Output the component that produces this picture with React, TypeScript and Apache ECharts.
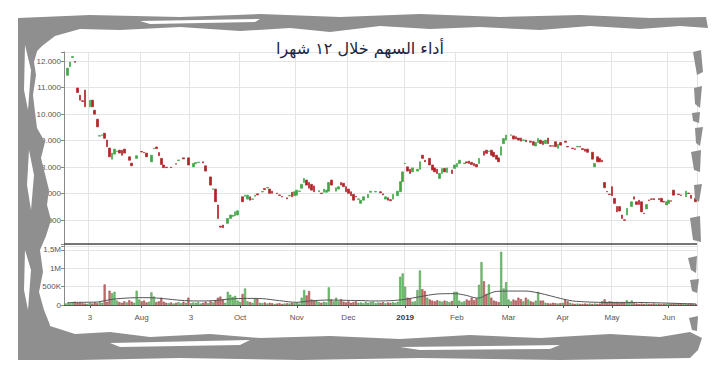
import React, { useEffect, useRef } from 'react';
import * as echarts from 'echarts';

const titleText = 'أداء السهم خلال ١٢ شهرا';

// one slot per trading day (null = no candle read)
const openVals: (number | null)[] = [
  null, 11470, 11790, 12140, 11990, 10990, 10720, 10510, 10910, null,
  10280, 10530, 10150, 9810, 9170, 9200, 9280, 9020, 8720, 8300,
  8490, 8590, 8640, 8640, 8680, null, 8390, 8150, null, 8330,
  null, 8590, 8560, 8530, null, 8200, 8690, 8760, 8550, 8330,
  8080, 8000, null, 8000, null, 8130, 8250, null, 8350, null,
  8350, null, 8010, 8130, 8170, null, 8200, 8050, null, 7630,
  7160, 7170, 6570, 5770, 5810, null, 5875, 6060, 6140, 6160,
  6190, null, 6880, 6900, 6790, 6880, 6780, 6900, 6990, null,
  7060, 7190, 7210, 7170, 7090, null, 7020, 6950, 6890, null,
  6840, 6910, 7050, 6920, 6940, 7080, 7200, 7420, 7510, 7420,
  7350, 7290, null, 7070, 7020, 7050, 7050, 7090, 7510, null,
  7090, 7170, 7420, 7390, 7260, 7170, 7070, 6970, 6890, 6780,
  6630, 6750, null, 6840, 7050, null, 7060, null, 7070, 6990,
  6790, 6840, 6770, 6790, null, 6920, 7070, 7450, 8130, 8010,
  7920, 7820, null, 7850, 7920, 8450, 8260, null, 8330, 8080,
  7970, 7920, 7570, 7760, 7950, 7800, null, 7890, 7950, 8010,
  8140, null, 8130, 8200, 8230, 8180, 8140, 8100, 8140, null,
  8600, 8640, 8590, 8640, 8560, 8450, 8350, 8450, 8890, 9020,
  null, 9200, 9180, 9150, 9100, 9100, 9010, 9020, null, 8980,
  8960, 8800, 8930, 9020, 8980, 8890, 9100, 8810, 8810, 8960,
  8710, 8930, null, 8980, 8780, null, 8720, 8690, 8760, 8780,
  8700, 8680, 8680, null, 8560, 8010, 8390, 8330, 8260, 7420,
  7080, 6980, 7260, 6820, 6510, 6510, 6190, 6010, 6190, null,
  6510, 6880, 6690, 6750, 6690, 6260, 6420, 6760, 6800, 6810,
  null, 6810, 6820, 6700, 6570, 6630, 6730, 7130, null, 6980,
  6950, null, 6880, 7020, 6940, null, 6820,
];

const closeVals: (number | null)[] = [
  null, 11740, 11970, 12180, 11960, 10820, 10530, 10480, 10280, null,
  10530, 10280, 10000, 9520, 9190, 9220, 9090, 8770, 8390, 8530,
  8680, 8610, 8530, 8450, 8530, null, 8260, 8050, null, 8430,
  null, 8570, 8540, 8390, null, 8450, 8710, 8700, 8430, 8100,
  7980, 7980, null, 7980, null, 8110, 8270, null, 8310, null,
  8080, null, 8140, 8170, 8190, null, 8160, 7850, null, 7320,
  7180, 6690, 6060, 5730, 5710, null, 6060, 6190, 6180, 6310,
  6350, null, 6690, 6940, 6940, 6750, 6800, 6940, 6950, null,
  7080, 7150, 7230, 7010, 7010, null, 7000, 6930, 6870, null,
  6800, 6930, 6880, 7070, 7130, 7100, 7350, 7570, 7320, 7200,
  7130, 7070, null, 7110, 7000, 7170, 7130, 7420, 7320, null,
  7220, 7260, 7320, 7260, 7070, 7010, 6920, 6750, 6870, 6800,
  6750, 6880, null, 6970, 7090, null, 7080, null, 7030, 6950,
  6880, 6750, 6730, 6970, null, 7090, 7450, 7820, 8150, 7850,
  7760, 7970, null, 7920, 8200, 8330, 8200, null, 8080, 7890,
  7820, 7760, 7760, 7950, 7820, 7970, null, 7760, 8080, 8140,
  8260, null, 8150, 8160, 8140, 8100, 8050, 8010, 8330, null,
  8450, 8520, 8610, 8450, 8390, 8300, 8200, 8770, 9080, 9210,
  null, 9220, 9060, 9060, 9020, 8980, 9030, 8960, null, 8940,
  8830, 8930, 9080, 8890, 8850, 9020, 8890, 8790, 8790, 8770,
  8860, 8830, null, 8940, 8760, null, 8700, 8670, 8780, 8760,
  8660, 8600, 8560, null, 8300, 8140, 8200, 8200, 8200, 7220,
  7060, 6960, 6920, 6630, 6310, 6340, 6060, 5990, 6440, null,
  6690, 6790, 6590, 6590, 6310, 6240, 6590, 6740, 6780, 6770,
  null, 6770, 6690, 6680, 6690, 6750, 6710, 6940, null, 6960,
  6930, null, 7090, 7000, 6820, null, 6690,
];

// volume in thousands
const volumeK: number[] = [
  40, 60, 50, 80, 90, 60, 70, 50, 40, 30,
  60, 40, 70, 50, 80, 60, 560, 90, 390, 320,
  360, 120, 80, 60, 100, 70, 130, 90, 60, 390,
  150, 100, 120, 70, 90, 345, 230, 80, 100, 200,
  90, 60, 50, 70, 40, 60, 80, 50, 90, 60,
  200, 50, 70, 60, 80, 40, 60, 90, 50, 100,
  70, 120, 200, 230, 150, 60, 360, 280, 220, 250,
  120, 80, 300, 450, 100, 80, 60, 180, 180, 60,
  50, 70, 40, 60, 50, 30, 40, 50, 30, 40,
  50, 40, 60, 50, 70, 40, 200, 410, 260, 380,
  150, 120, 110, 80, 60, 90, 70, 480, 150, 100,
  200, 100, 160, 90, 70, 100, 60, 80, 100, 60,
  70, 50, 90, 60, 80, 90, 50, 70, 60, 80,
  50, 70, 60, 80, 60, 90, 770, 860, 500, 200,
  180, 90, 100, 410, 940, 430, 380, 200, 150, 120,
  100, 130, 110, 90, 120, 100, 80, 110, 360, 360,
  120, 80, 100, 150, 120, 200, 130, 180, 550, 1170,
  650, 300, 560, 200, 120, 100, 80, 1450, 450, 620,
  150, 100, 150, 120, 200, 160, 100, 200, 150, 100,
  80, 120, 360, 120, 120, 60, 50, 40, 60, 50,
  40, 50, 60, 150, 100, 60, 40, 30, 40, 30,
  30, 40, 30, 40, 30, 40, 30, 40, 100, 155,
  80, 100, 90, 70, 80, 60, 70, 60, 130, 60,
  120, 50, 40, 30, 40, 30, 40, 30, 30, 40,
  30, 30, 20, 30, 30, 40, 30, 40, 30, 30,
  20, 30, 40, 30, 40, 30, 30,
];

// volume moving average (thousands), read at a few slots
const maSlots = [1, 6, 13, 16, 19, 23, 29, 34, 40, 47, 53, 60, 67, 74, 80, 87, 94, 99, 107, 114, 122, 124, 132, 138, 144, 151, 158, 163, 166, 168, 171, 175, 180, 187, 192, 197, 201, 206, 213, 220, 230, 240, 250, 256];
const maValuesK = [64, 73, 82, 118, 155, 180, 200, 200, 173, 127, 110, 118, 164, 180, 173, 118, 73, 110, 136, 127, 118, 110, 118, 155, 227, 300, 310, 260, 200, 190, 280, 370, 380, 380, 330, 250, 180, 110, 80, 70, 70, 60, 40, 30];

const tickSlots = [10, 31, 51, 71, 94, 115, 138, 159, 180, 202, 222, 245];
const tickLabels = ['3', 'Aug', '3', 'Oct', 'Nov', 'Dec', '2019', 'Feb', 'Mar', 'Apr', 'May', 'Jun'];

const priceLabels: Record<number, string> = { 6000: '6.000', 7000: '7.000', 8000: '8.000', 9000: '9.000', 10000: '10.000', 11000: '11.000', 12000: '12.000' };
const volLabels: Record<number, string> = { 0: '0', 500: '500K', 1000: '1M', 1500: '1,5M' };

// decorative torn-paper frame
const FRAME = '#8f8f8f';
const framePolys: number[][][] = [
  // top
  [[18, 18], [90, 15], [180, 17], [260, 14], [340, 17], [420, 14], [500, 17], [580, 15], [650, 18], [706, 17], [708, 28], [680, 26], [640, 29], [590, 26], [540, 30], [480, 27], [430, 29], [380, 26], [330, 32], [290, 28], [240, 31], [180, 27], [120, 30], [80, 29], [55, 36], [42, 46], [30, 58], [18, 60]],
  // left
  [[18, 18], [50, 19], [45, 32], [38, 48], [34, 62], [36, 75], [33, 95], [35, 112], [37, 128], [45, 142], [41, 158], [44, 170], [49, 190], [47, 205], [51, 220], [46, 236], [40, 250], [43, 272], [39, 292], [44, 310], [50, 325], [46, 340], [30, 356], [18, 356]],
  // bottom
  [[18, 328], [50, 326], [75, 334], [110, 332], [150, 337], [210, 334], [260, 338], [330, 336], [400, 339], [470, 335], [540, 338], [610, 334], [660, 337], [690, 332], [702, 338], [698, 350], [690, 358], [560, 360], [420, 358], [300, 360], [180, 358], [80, 360], [18, 360]],
  // right shards
  [[693, 52], [701, 50], [703, 72], [697, 75]],
  [[694, 88], [702, 86], [700, 108], [695, 104]],
  [[692, 113], [700, 112], [699, 123], [693, 121]],
  [[695, 128], [703, 127], [700, 146], [696, 143]],
  [[691, 152], [701, 150], [700, 172], [694, 170]],
  [[694, 185], [702, 184], [699, 202], [695, 199]],
  [[690, 218], [700, 216], [701, 242], [693, 240]],
  [[688, 258], [697, 256], [696, 273], [691, 270]],
  [[690, 280], [699, 279], [697, 293], [692, 291]],
  [[689, 318], [698, 316], [697, 331], [692, 330]],
];
const whiteStreaks: number[][][] = [
  [[25, 45], [31, 70], [28, 110], [24, 90]],
  [[29, 150], [34, 175], [31, 210], [27, 185]],
  [[25, 250], [31, 270], [28, 310], [24, 290]],
  [[110, 343], [250, 340], [240, 345], [120, 347]],
  [[400, 347], [560, 345], [550, 349], [420, 350]],
  [[140, 21], [260, 19], [255, 22], [150, 24]],
];

export default function App() {
  const ref = useRef<HTMLDivElement>(null);
  useEffect(() => {
    const chart = echarts.init(ref.current!, null, { renderer: 'svg' });
    const n = openVals.length;
    const cats = openVals.map((_, i) => 'd' + i);
    const tickSet = new Set(tickSlots);
    const labelMap = new Map(tickSlots.map((s, i) => [s, tickLabels[i]]));
    const isTick = (i: number) => tickSet.has(i);

    const candles = openVals.map((o, i) => {
      const c = closeVals[i];
      if (o == null || c == null) return ['-', '-', '-', '-'];
      return [o, c, Math.min(o, c), Math.max(o, c)];
    });
    const upStyle = { color: '#78c477', borderColor: '#3f9140', borderWidth: 0.5 };
    const downStyle = { color: '#c57573', borderColor: '#983a3a', borderWidth: 0.5 };
    const vol = volumeK.map((v, i) => {
      const o = openVals[i], c = closeVals[i];
      const up = o == null || c == null || c >= o;
      return { value: v, itemStyle: up ? upStyle : downStyle };
    });
    const ma: (number | null)[] = new Array(n).fill(null);
    maSlots.forEach((s, k) => { ma[s] = maValuesK[k]; });

    const labelFont = { fontSize: 8, color: '#555555', fontFamily: 'Liberation Sans' };
    const gridLine = { show: true, lineStyle: { color: '#e4e4e4', width: 1 } };

    const graphics: any[] = [];
    framePolys.forEach((p) => graphics.push({ type: 'polygon', z: 100, shape: { points: p }, style: { fill: FRAME } }));
    whiteStreaks.forEach((p) => graphics.push({ type: 'polygon', z: 101, shape: { points: p }, style: { fill: '#ffffff' } }));
    graphics.push({ type: 'line', z: 50, shape: { x1: 64, y1: 244, x2: 697, y2: 244 }, style: { stroke: '#4d4d4d', lineWidth: 1.5 } });

    chart.setOption({
      animation: false,
      backgroundColor: '#ffffff',
      title: {
        text: titleText, left: 'center', top: 35,
        textStyle: { fontFamily: 'DejaVu Sans', fontSize: 16, fontWeight: 'normal', color: '#1d2540' },
      },
      grid: [
        { left: 64, right: 23, top: 52, height: 194.5 },
        { left: 64, right: 23, top: 244, height: 61 },
      ],
      xAxis: [
        {
          type: 'category', gridIndex: 0, data: cats, boundaryGap: true,
          axisLine: { show: false }, axisTick: { show: false }, axisLabel: { show: false },
          splitLine: { ...gridLine, interval: isTick },
        },
        {
          type: 'category', gridIndex: 1, data: cats, boundaryGap: true, offset: 5,
          axisLine: { show: true, lineStyle: { color: '#555', width: 1 } },
          axisTick: { show: true, interval: isTick, length: 3, alignWithLabel: true, lineStyle: { color: '#555' } },
          axisLabel: {
            ...labelFont, interval: isTick, margin: 3,
            formatter: (_v: string, idx: number) => {
              const t = labelMap.get(idx) ?? '';
              return t === '2019' ? '{b|2019}' : t;
            },
            rich: { b: { fontSize: 8, fontWeight: 'bold', color: '#3a3a3a', fontFamily: 'Liberation Sans' } },
          },
          splitLine: { ...gridLine, interval: isTick },
        },
      ],
      yAxis: [
        {
          type: 'value', gridIndex: 0, min: 5000, max: 12350, interval: 1000, scale: true,
          axisLine: { show: true, lineStyle: { color: '#8a8a8a' } },
          axisTick: { show: true, length: 3, lineStyle: { color: '#8a8a8a' } },
          axisLabel: { ...labelFont, margin: 3, formatter: (v: number) => priceLabels[v] ?? '' },
          splitLine: gridLine,
        },
        {
          type: 'value', gridIndex: 1, min: 0, max: 1663, interval: 500,
          axisLine: { show: true, lineStyle: { color: '#8a8a8a' } },
          axisTick: { show: true, length: 3, lineStyle: { color: '#8a8a8a' } },
          axisLabel: { ...labelFont, margin: 3, formatter: (v: number) => volLabels[v] ?? '' },
          splitLine: gridLine,
        },
      ],
      series: [
        {
          type: 'candlestick', xAxisIndex: 0, yAxisIndex: 0, data: candles, barWidth: 2.1,
          itemStyle: { color: '#3fa845', color0: '#b02327', borderColor: '#3fa845', borderColor0: '#b02327', borderWidth: 0.7 },
        },
        { type: 'bar', xAxisIndex: 1, yAxisIndex: 1, data: vol, barWidth: '85%' },
        {
          type: 'line', xAxisIndex: 1, yAxisIndex: 1, data: ma, connectNulls: true, smooth: 0.3,
          showSymbol: false, lineStyle: { color: '#555555', width: 1 }, z: 5,
        },
      ],
      graphic: graphics,
    });
    return () => chart.dispose();
  }, []);
  return <div ref={ref} style={{ position: 'fixed', left: 0, top: 0, width: 720, height: 377, background: '#fff' }} />;
}
